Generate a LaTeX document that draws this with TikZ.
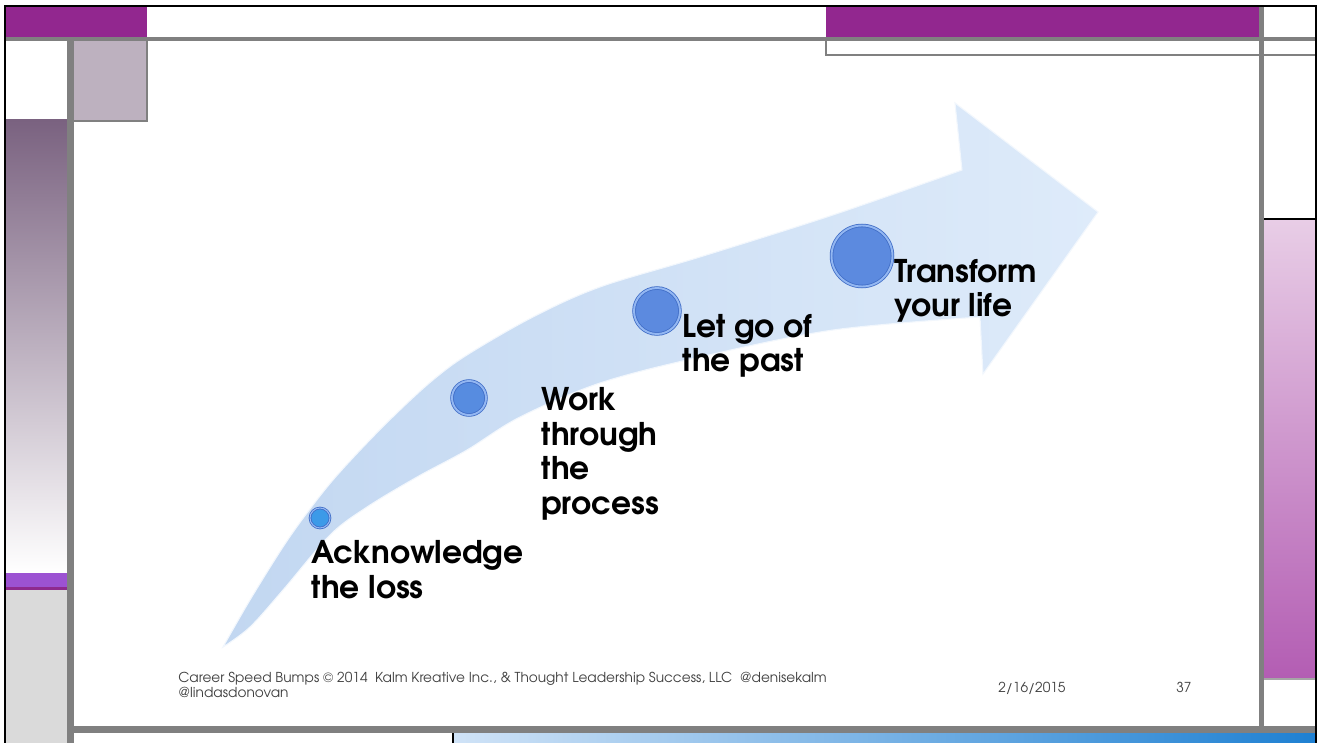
\documentclass[tikz,border=0pt]{standalone}
\usepackage{fontspec}
\setmainfont{TeX Gyre Adventor}
\usepackage{tikz}
\usetikzlibrary{calc}
\usepackage{xcolor}
\definecolor{slidepurple}{HTML}{92278F}
\definecolor{framegray}{HTML}{808080}
\definecolor{mauve}{HTML}{BDB1BF}
\definecolor{mauvedark}{HTML}{7A6280}
\definecolor{stripeviolet}{HTML}{9C52D2}
\definecolor{stripemagenta}{HTML}{8E2A8E}
\definecolor{sidegray}{HTML}{DADADA}
\definecolor{pinktop}{HTML}{E8CDE6}
\definecolor{pinkbot}{HTML}{B35DB3}
\definecolor{arrowdark}{HTML}{C2D7F1}
\definecolor{arrowlight}{HTML}{DEEBFA}
\definecolor{ballblue}{HTML}{5C8ADF}
\definecolor{smallball}{HTML}{3C9AE8}
\definecolor{ballrim}{HTML}{3F6CC6}
\definecolor{ballring}{HTML}{93B7F2}
\definecolor{barlight}{HTML}{D0E3F7}
\definecolor{bardark}{HTML}{1E80D2}
\colorlet{footgray}{black!75}
\tikzstyle{ball}=[circle,inner sep=0,fill=ballblue,draw=ballrim,line width=0.45pt,double=ballring,double distance=1.1pt]
\tikzstyle{stagelabel}=[anchor=base west,align=left,inner sep=0,font=\bfseries\fontsize{17.8}{19.6}\selectfont]
\tikzstyle{footer}=[anchor=base west,align=left,inner sep=0,text=footgray,font=\fontsize{7.8}{8.5}\selectfont]

\begin{document}
\begin{tikzpicture}[x=0.02cm,y=-0.02cm]
    \useasboundingbox (0,0) rectangle (1323,743);
    \fill[white] (0,0) rectangle (1323,743);

    % frame blocks
    \fill[slidepurple] (6,7) rectangle (147,37);
    \fill[slidepurple] (826,7) rectangle (1260,37);
    \fill[mauve] (74,40) rectangle (147,121);
    \draw[framegray,line width=0.8pt] (147,40) -- (147,121) -- (74,121);
    \shade[top color=mauvedark,bottom color=white] (6,120) rectangle (67,573);
    \fill[stripeviolet] (6,573) rectangle (67,587);
    \fill[stripemagenta] (6,587) rectangle (69,589.5);
    \fill[sidegray] (6,589.5) rectangle (67,743);
    \shade[top color=pinktop,bottom color=pinkbot] (1264,220) rectangle (1316,679);
    \draw[framegray!70,line width=0.6pt] (1264,679) -- (1316,679);
    \draw[black,line width=1.2pt] (1262,219) -- (1316,219);
    \draw[framegray,line width=0.8pt] (826,37) -- (826,55) -- (1316,55);
    \shade[left color=barlight,right color=bardark] (453,733) rectangle (1316,743);
    \draw[black,line width=0.6pt] (453,733) -- (453,743);

    % gray rules
    \fill[framegray] (6,37) rectangle (1316,41);
    \fill[framegray] (67,37) rectangle (74,743);
    \fill[framegray] (1259,7) rectangle (1264,733);
    \fill[framegray] (67,726) rectangle (1316,733);

    % black border
    \draw[black,line width=1.6pt] (5,743) -- (5,6) -- (1316,6) -- (1316,743);

    % curved arrow
    \shade[left color=arrowdark,right color=arrowlight,draw=white!60!arrowlight,line width=0.6pt]
        plot[smooth,tension=0.55] coordinates {(223,647) (250,600) (283,547) (307,513) (333,480) (367,443) (400,410) (433,380) (467,355) (533,317) (600,287) (700,257) (833,215) (962,170)}
        -- (955,103) -- (1098,212) -- (983,374)
        -- plot[smooth,tension=0.55] coordinates {(980,317) (833,330) (700,357) (600,383) (520,417) (467,450) (417,477) (367,507) (330,535) (283,590) (250,627) (223,647)}
        -- cycle;

    \node[ball,fill=smallball,double distance=0.6pt,minimum size=0.4cm] (loss) at (320,518) {};
    \node[ball,fill=ballblue!85!smallball,minimum size=0.68cm] (process) at (469,398) {};
    \node[ball,minimum size=0.92cm] (past) at (657,311) {};
    \node[ball,minimum size=1.22cm] (life) at (862,256) {};

    % base sits on the last line
    \node[stagelabel] (losstext) at (311,598) {Acknowledge\\the loss};
    \node[stagelabel] (processtext) at (541,514) {Work\\through\\the\\process};
    \node[stagelabel] (pasttext) at (682,372) {Let go of\\the past};
    \node[stagelabel] (lifetext) at (894,317) {Transform\\your life};

    \node[footer] (credit) at (178,697) {Career Speed Bumps \textcopyright{} 2014\ \ Kalm Kreative Inc., \& Thought Leadership Success, LLC\ \ @denisekalm\\@lindasdonovan};
    \node[footer] (date) at (998,692) {2/16/2015};
    \node[footer] (page) at (1176,692) {37};
\end{tikzpicture}
\end{document}
